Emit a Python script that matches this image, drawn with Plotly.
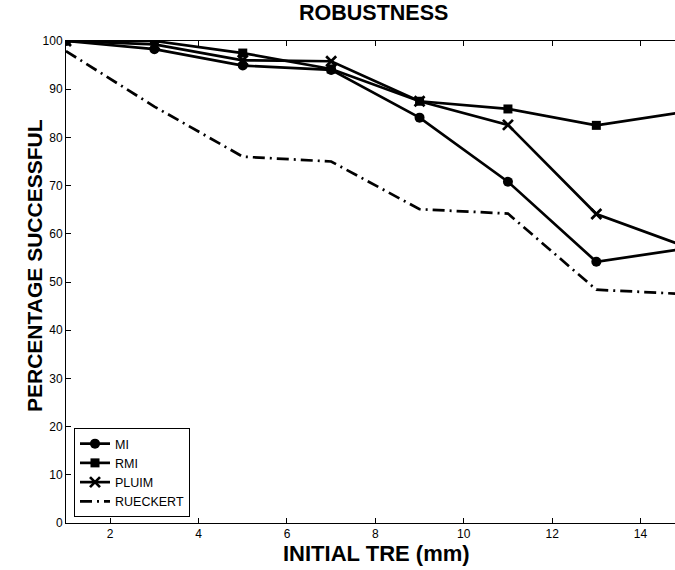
import plotly.graph_objects as go

tre = [1, 3, 5, 7, 9, 11, 13, 15]
mi = [100, 98.3, 94.9, 94.0, 84.1, 70.8, 54.2, 56.9]
rmi = [100, 100, 97.5, 94.2, 87.5, 85.9, 82.5, 85.3]
pluim = [100, 99.3, 96.0, 95.8, 87.5, 82.6, 64.1, 57.4]
rueckert = [97.9, 86.4, 76.0, 75.0, 65.1, 64.2, 48.4, 47.5]

xticks = [2, 4, 6, 8, 10, 12, 14]
yticks = list(range(0, 101, 10))

W, H = 675, 570
L, R, T, B = 66, 0, 41, 47

fig = go.Figure()
common = dict(mode="lines+markers", line=dict(color="black", width=2.7))
fig.add_trace(go.Scatter(x=tre, y=mi, name="MI",
                         marker=dict(symbol="circle", size=10, color="black"), **common))
fig.add_trace(go.Scatter(x=tre, y=rmi, name="RMI",
                         marker=dict(symbol="square", size=9, color="black"), **common))
fig.add_trace(go.Scatter(x=tre, y=pluim, name="PLUIM",
                         marker=dict(symbol="x-thin", size=10, color="black",
                                     line=dict(color="black", width=2.7)), **common))
fig.add_trace(go.Scatter(x=tre, y=rueckert, name="RUECKERT", mode="lines",
                         line=dict(color="black", width=2.7, dash="12px,5px,2px,5px")))

pw = W - L - R
ph = H - T - B


def px_x(p):
    return (p - L) / pw


def px_y(p):
    return (H - B - p) / ph


fig.update_layout(
    width=W, height=H,
    margin=dict(l=L, r=R, t=T, b=B, autoexpand=False),
    paper_bgcolor="white", plot_bgcolor="white",
    font=dict(family="Liberation Sans, Arial, sans-serif", color="black", size=12),
    showlegend=True,
    legend=dict(x=px_x(74), y=px_y(517), xanchor="left", yanchor="bottom",
                bgcolor="white", bordercolor="black", borderwidth=1,
                font=dict(size=12.5), tracegroupgap=0, itemwidth=30),
    annotations=[
        dict(text="<b>ROBUSTNESS</b>", xref="paper", yref="paper",
             x=px_x(373), y=px_y(13), xanchor="center", yanchor="middle",
             showarrow=False, font=dict(size=21.5)),
        dict(text="<b>INITIAL TRE (mm)</b>", xref="paper", yref="paper",
             x=px_x(376), y=px_y(553), xanchor="center", yanchor="middle",
             showarrow=False, font=dict(size=22)),
        dict(text="<b>PERCENTAGE SUCCESSFUL</b>", xref="paper", yref="paper",
             x=px_x(34), y=px_y(266), xanchor="center", yanchor="middle",
             textangle=-90, showarrow=False, font=dict(size=21)),
    ],
)
fig.update_xaxes(range=[1, 14.78], tickvals=xticks, ticks="inside", ticklen=5,
                 showline=True, linecolor="black", linewidth=1, mirror="ticks",
                 showgrid=False, zeroline=False, tickcolor="black", automargin=False)
fig.update_yaxes(range=[0, 100], tickvals=yticks, ticks="inside", ticklen=5,
                 showline=True, linecolor="black", linewidth=1, mirror=False,
                 showgrid=False, zeroline=False, tickcolor="black", automargin=False)

fig.write_html("out.html", config={"displayModeBar": False},
               post_script="document.body.style.margin='0';document.body.style.overflow='hidden';")
